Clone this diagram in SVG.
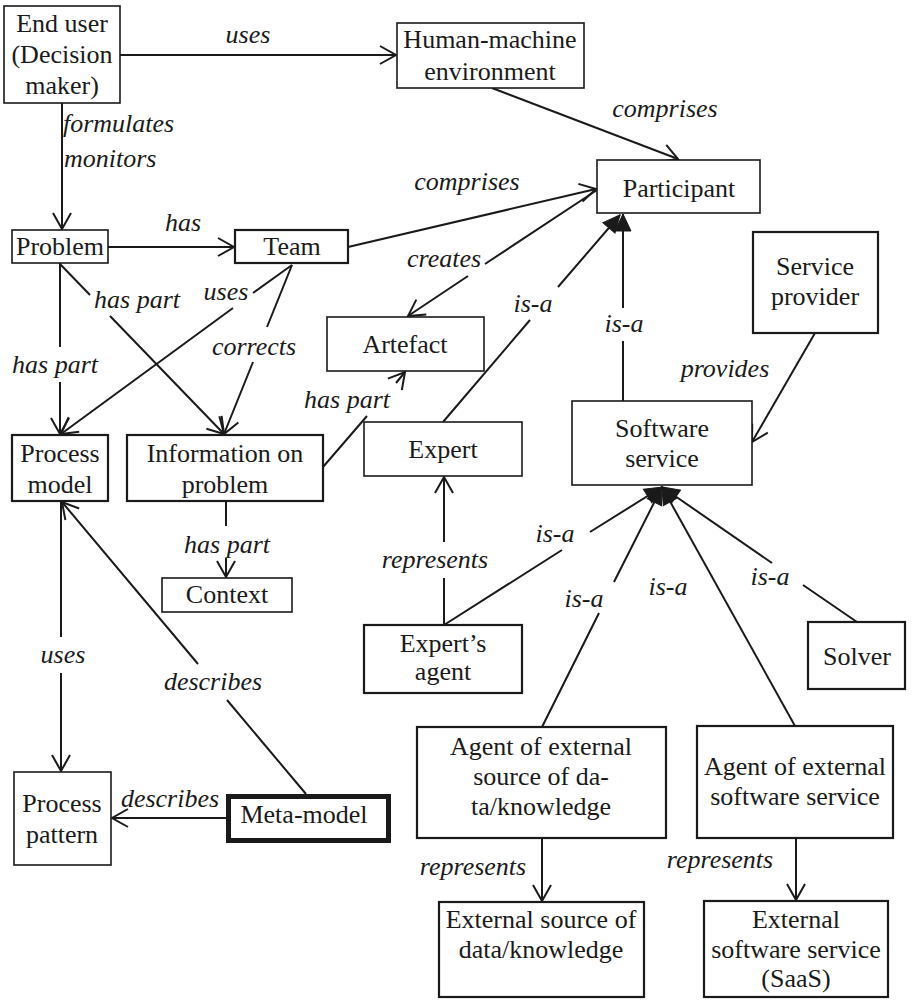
<svg xmlns="http://www.w3.org/2000/svg" width="912" height="1001" viewBox="0 0 912 1001" font-family="'Liberation Serif', 'DejaVu Serif', serif">
  <defs>
    <style>
      .box { fill: #ffffff; stroke: #1a1a1a; stroke-width: 1.6; }
      .box.thick { stroke-width: 2.2; }
      .box.meta { stroke-width: 5; }
      text { font-family: 'Liberation Serif', 'DejaVu Serif', serif; font-size: 26px; fill: #1a1a1a; text-anchor: middle; }
      .rel { font-style: italic; }
      .rel.start { text-anchor: start; }
      .edge { fill: none; stroke: #1a1a1a; stroke-width: 2; }
      .open { marker-end: url(#openHead); }
      .isa { marker-end: url(#filledHead); }
    </style>
    <marker id="openHead" markerUnits="userSpaceOnUse" markerWidth="40" markerHeight="40" viewBox="-20 -20 40 40" refX="0" refY="0" orient="auto" overflow="visible">
      <path d="M-16,-9 L0,0 L-16,9" fill="none" stroke="#1a1a1a" stroke-width="2"/>
    </marker>
    <marker id="filledHead" markerUnits="userSpaceOnUse" markerWidth="40" markerHeight="40" viewBox="-20 -20 40 40" refX="0" refY="0" orient="auto" overflow="visible">
      <path d="M-17,-8 L0,0 L-17,8 Z" fill="#1a1a1a" stroke="#1a1a1a" stroke-width="1"/>
    </marker>
  </defs>

  <rect width="912" height="1001" fill="#ffffff"/>

  <!-- relations between concepts -->
  <g id="connectors">
    <path class="edge open" d="M120,55 L396,55"/>
    <path class="edge open" d="M62,103 L62,229"/>
    <path class="edge open" d="M108,247 L234,247"/>
    <path class="edge open" d="M348,247 L596,189"/>
    <path class="edge open" d="M492,88 L678,159"/>
    <path class="edge open" d="M597,190 L485,264 M468,276 L408,316"/>
    <path class="edge open" d="M60,263 L60,347 M60,382 L60,434"/>
    <path class="edge open" d="M60,264 L90,295 M110,316 L224,434"/>
    <path class="edge open" d="M292,265 L253,293 M233,308 L61,434"/>
    <path class="edge open" d="M292,265 L267,327 M253,362 L224,434"/>
    <path class="edge open" d="M323,467 L367,416 M396,383 L405,372"/>
    <path class="edge isa" d="M443,422 L530,320 M558,287 L620,215"/>
    <path class="edge isa" d="M623,401 L623,341 M623,308 L623,214"/>
    <path class="edge open" d="M815,333 L752,442"/>
    <path class="edge open" d="M444,625 L444,578 M444,542 L444,477"/>
    <path class="edge isa" d="M444,625 L562,550 M590,532 L662,487"/>
    <path class="edge isa" d="M542,727 L599,613 M614,582 L662,487"/>
    <path class="edge isa" d="M795,726 L662,487"/>
    <path class="edge isa" d="M857,622 L803,585 M772,563 L662,487"/>
    <path class="edge open" d="M226,501 L226,526 M226,558 L226,577"/>
    <path class="edge open" d="M61,501 L61,637 M61,673 L61,771"/>
    <path class="edge open" d="M306,794 L227,700 M198,664 L62,502"/>
    <path class="edge open" d="M226,818 L112,818"/>
    <path class="edge open" d="M542,838 L542,901"/>
    <path class="edge open" d="M796,838 L796,900"/>

    <text class="rel" x="248" y="43">uses</text>
    <text class="rel start" x="63" y="132">formulates</text>
    <text class="rel start" x="64" y="167">monitors</text>
    <text class="rel" x="183" y="231">has</text>
    <text class="rel" x="467" y="190">comprises</text>
    <text class="rel" x="665" y="117">comprises</text>
    <text class="rel" x="444" y="267">creates</text>
    <text class="rel" x="55" y="373">has part</text>
    <text class="rel" x="137" y="308">has part</text>
    <text class="rel" x="226" y="300">uses</text>
    <text class="rel" x="254" y="355">corrects</text>
    <text class="rel" x="347" y="408">has part</text>
    <text class="rel" x="533" y="312">is-a</text>
    <text class="rel" x="624" y="332">is-a</text>
    <text class="rel" x="725" y="377">provides</text>
    <text class="rel" x="435" y="568">represents</text>
    <text class="rel" x="555" y="542">is-a</text>
    <text class="rel" x="584" y="607">is-a</text>
    <text class="rel" x="668" y="595">is-a</text>
    <text class="rel" x="770" y="585">is-a</text>
    <text class="rel" x="227" y="553">has part</text>
    <text class="rel" x="63" y="663">uses</text>
    <text class="rel" x="213" y="690">describes</text>
    <text class="rel" x="170" y="807">describes</text>
    <text class="rel" x="473" y="875">represents</text>
    <text class="rel" x="720" y="868">represents</text>
  </g>

  <g id="end-user">
    <rect class="box" x="4" y="6" width="116" height="97"/>
    <text x="62" y="32">End user</text>
    <text x="62" y="63">(Decision</text>
    <text x="62" y="94">maker)</text>
  </g>
  <g id="human-machine-environment">
    <rect class="box" x="397" y="23" width="187" height="65"/>
    <text x="490" y="48">Human-machine</text>
    <text x="490" y="80">environment</text>
  </g>
  <g id="participant">
    <rect class="box" x="597" y="160" width="163" height="53"/>
    <text x="679" y="197">Participant</text>
  </g>
  <g id="problem">
    <rect class="box" x="12" y="230" width="96" height="33"/>
    <text x="60" y="255">Problem</text>
  </g>
  <g id="team">
    <rect class="box thick" x="235" y="230" width="113" height="33"/>
    <text x="292" y="255">Team</text>
  </g>
  <g id="artefact">
    <rect class="box" x="327" y="317" width="157" height="54"/>
    <text x="405" y="353">Artefact</text>
  </g>
  <g id="process-model">
    <rect class="box thick" x="12" y="435" width="96" height="66"/>
    <text x="60" y="462">Process</text>
    <text x="60" y="493">model</text>
  </g>
  <g id="information-on-problem">
    <rect class="box thick" x="127" y="435" width="196" height="66"/>
    <text x="225" y="462">Information on</text>
    <text x="225" y="493">problem</text>
  </g>
  <g id="expert">
    <rect class="box" x="364" y="422" width="158" height="54"/>
    <text x="443" y="458">Expert</text>
  </g>
  <g id="software-service">
    <rect class="box" x="572" y="401" width="180" height="84"/>
    <text x="662" y="437">Software</text>
    <text x="662" y="467">service</text>
  </g>
  <g id="service-provider">
    <rect class="box thick" x="753" y="232" width="125" height="101"/>
    <text x="815" y="275">Service</text>
    <text x="815" y="305">provider</text>
  </g>
  <g id="context">
    <rect class="box" x="162" y="578" width="130" height="34"/>
    <text x="227" y="603">Context</text>
  </g>
  <g id="experts-agent">
    <rect class="box thick" x="364" y="625" width="158" height="68"/>
    <text x="443" y="652">Expert’s</text>
    <text x="443" y="680">agent</text>
  </g>
  <g id="solver">
    <rect class="box thick" x="808" y="622" width="97" height="67"/>
    <text x="857" y="665">Solver</text>
  </g>
  <g id="agent-external-source">
    <rect class="box thick" x="417" y="727" width="249" height="111"/>
    <text x="541" y="755">Agent of external</text>
    <text x="541" y="785">source of da-</text>
    <text x="541" y="815">ta/knowledge</text>
  </g>
  <g id="agent-external-software-service">
    <rect class="box thick" x="697" y="726" width="196" height="112"/>
    <text x="795" y="775">Agent of external</text>
    <text x="795" y="805">software service</text>
  </g>
  <g id="process-pattern">
    <rect class="box" x="14" y="772" width="97" height="93"/>
    <text x="62" y="812">Process</text>
    <text x="62" y="843">pattern</text>
  </g>
  <g id="meta-model">
    <rect class="box meta" x="228.5" y="796.5" width="160" height="44"/>
    <text x="304" y="823">Meta-model</text>
  </g>
  <g id="external-source">
    <rect class="box thick" x="439" y="902" width="205" height="95"/>
    <text x="541" y="928">External source of</text>
    <text x="541" y="958">data/knowledge</text>
  </g>
  <g id="external-software-service">
    <rect class="box thick" x="704" y="901" width="184" height="96"/>
    <text x="796" y="928">External</text>
    <text x="796" y="958">software service</text>
    <text x="796" y="987">(SaaS)</text>
  </g>
</svg>
